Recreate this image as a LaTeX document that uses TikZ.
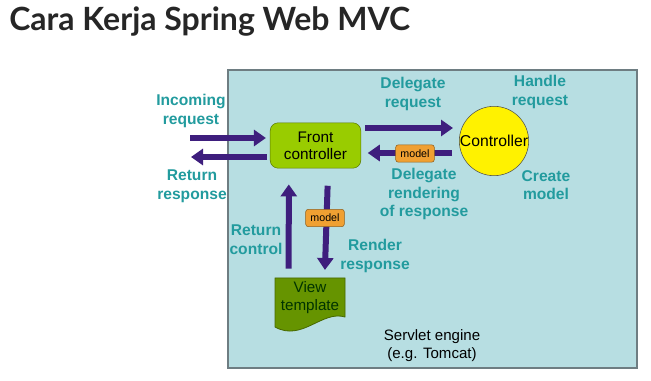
\documentclass[tikz,border=0pt]{standalone}
\usepackage{fontspec}
\setmainfont{Liberation Sans}
\newfontfamily\headfont{Lato}
\usetikzlibrary{arrows.meta}
\definecolor{engineblue}{RGB}{183,222,226}
\definecolor{engineline}{RGB}{110,125,130}
\definecolor{labelteal}{RGB}{34,155,158}
\definecolor{flowpurple}{RGB}{62,30,125}
\definecolor{frontgreen}{RGB}{153,204,0}
\definecolor{viewgreen}{RGB}{102,148,0}
\definecolor{modelorange}{RGB}{240,160,50}
\tikzstyle{steptext} = [text=labelteal, font=\bfseries\fontsize{11.7}{14}\selectfont, align=center]
\tikzstyle{flow} = [draw=flowpurple, line width=4.5pt, -{Triangle[length=9pt, width=12pt]}]
\tikzstyle{frontbox} = [rectangle, rounded corners=6pt, draw=frontgreen!60!black, fill=frontgreen, minimum width=68pt, minimum height=34pt, align=center, font=\fontsize{11.5}{13}\selectfont]
\tikzstyle{ctrlcircle} = [circle, draw=black!70, fill=yellow, minimum size=52pt, inner sep=0pt, font=\fontsize{11.8}{13}\selectfont]
\tikzstyle{modelbox} = [rectangle, rounded corners=2pt, draw=modelorange!60!black, fill=modelorange, minimum width=29pt, minimum height=13pt, inner sep=1pt, font=\fontsize{8}{9}\selectfont]

\begin{document}
\begin{tikzpicture}[x=0.75pt, y=-0.75pt]
  \useasboundingbox (0,0) rectangle (651,381);
  \node [anchor=base west, inner sep=0pt, text=black!85, font=\headfont\bfseries\fontsize{24}{28}\selectfont] (title) at (9,31) {Cara Kerja Spring Web MVC};

  % servlet engine
  \draw[engineline, fill=engineblue, line width=1pt] (228,70) rectangle (637,368);
  \node (engine) [align=center, font=\fontsize{11.3}{13.5}\selectfont] at (432,346) {Servlet engine\\ (e.g. Tomcat)};

  \node (front) [frontbox] at (315.5,145.5) {Front\\controller};
  \node (ctrl) [ctrlcircle] at (494,141) {Controller};

  % view template page
  \draw[viewgreen!70!black, fill=viewgreen, line width=0.6pt] (275,278) -- (345,278) -- (345,317)
    .. controls (322,310) and (302,342) .. (275,327) -- cycle;
  \node (view) [align=center, text=black!80!green, font=\fontsize{11.4}{13.5}\selectfont] at (310,298) {View\\template};

  \coordinate (inL) at (190,138);
  \coordinate (outL) at (191,157);
  \coordinate (reqR) at (453,128);
  \coordinate (rendR) at (452,153);

  \draw[flow, shorten >=3pt] (inL) -- (front.west |- inL);
  \draw[flow, shorten <=2pt] (front.west |- outL) -- (outL);
  \draw[flow, shorten <=3pt] (front.east |- reqR) -- (reqR);
  \draw[flow, shorten >=5pt] (rendR) -- (front.east |- rendR);
  \draw[flow, shorten <=13pt, shorten >=6pt] ([xshift=9.5pt]front.south) -- ([xshift=11pt]view.north |- 0,278);
  \draw[flow, shorten <=7pt, shorten >=12pt] ([xshift=-16pt]view.north |- 0,278) -- ([xshift=-20pt]front.south);

  \node (model1) [modelbox] at (415,153.5) {model};
  \node (model2) [modelbox] at (325,218) {model};

  \node (incoming) [steptext] at (191,111) {Incoming\\request};
  \node (retresp) [steptext] at (192,186) {Return\\response};
  \node (delreq) [steptext] at (413,94) {Delegate\\request};
  \node (handle) [steptext] at (540,92) {Handle\\request};
  \node (delrend) [steptext] at (424,194) {Delegate\\rendering\\of response};
  \node (create) [steptext] at (546,185) {Create\\model};
  \node (retctrl) [steptext] at (256,240) {Return\\control};
  \node (render) [steptext] at (375,256) {Render\\response};
\end{tikzpicture}
\end{document}
